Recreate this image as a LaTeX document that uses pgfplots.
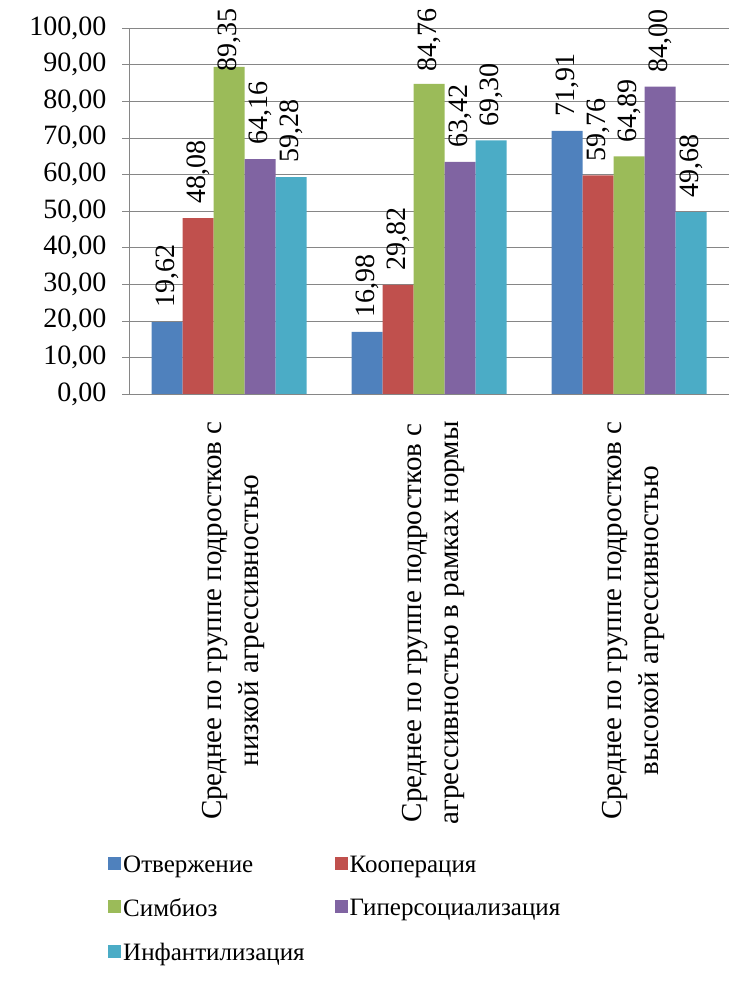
\documentclass[border=0pt]{standalone}
\usepackage{pgfplots}
\pgfplotsset{compat=1.18}
\usepackage{fontspec}
\setmainfont{Liberation Serif}
\definecolor{cA}{HTML}{4F81BD}
\definecolor{cB}{HTML}{C0504D}
\definecolor{cC}{HTML}{9BBB59}
\definecolor{cD}{HTML}{8064A2}
\definecolor{cE}{HTML}{4BACC6}
\definecolor{gridg}{HTML}{868686}
\begin{document}
\begin{tikzpicture}
\useasboundingbox (0,0) rectangle (753pt,981pt);
\begin{axis}[
  at={(129pt,587pt)}, anchor=south west,
  scale only axis, width=600pt, height=366pt,
  ybar=0pt, bar width=31pt,
  xmin=-0.5, xmax=2.5, ymin=0, ymax=100,
  ytick={0,10,...,100},
  xtick={0,1,2},
  xticklabels={{Среднее по группе подростков с\\низкой агрессивностью},
               {Среднее по группе подростков с\\агрессивностью в рамках нормы},
               {Среднее по группе подростков с\\высокой агрессивностью}},
  major x tick style={draw=none},
  extra x ticks={-0.5,0.5,1.5,2.5},
  extra x tick labels={},
  extra x tick style={grid=none, major tick length=10pt, tick style={draw=gridg}},
  tick align=outside, major tick length=7pt,
  tick style={draw=gridg, thin},
  axis x line*=bottom, axis y line*=left,
  axis line style={draw=gridg, -},
  ymajorgrids, grid style={draw=gridg, thin},
  yticklabel style={font=\fontsize{28}{32}\selectfont, xshift=-12pt, /pgf/number format/.cd, fixed, fixed zerofill, precision=2, use comma, assume math mode=true},
  xticklabel style={font=\fontsize{29}{37}\selectfont, align=center, inner sep=0pt, yshift=-20pt, xshift=4pt, rotate=90, anchor=east},
  visualization depends on={rawy \as \rawy},
  nodes near coords={\pgfmathprintnumber[fixed, fixed zerofill, precision=2, use comma, assume math mode=true]{\pgfplotspointmeta}},
  every node near coord/.append style={font=\fontsize{28}{32}\selectfont, inner sep=0pt, yshift={min(14,(88-\rawy)*3.66)*1pt}, rotate=90, anchor=west},
  legend columns=2,
  legend style={draw=none, fill=none, at={(-0.04,-1.25)}, anchor=north west,
    font=\fontsize{25}{29}\selectfont,
    /tikz/every even column/.append style={column sep=28pt},
    row sep=21pt},
  legend cell align=left,
  legend image code/.code={\fill[#1] (0pt,-5pt) rectangle (13pt,8pt);},
]
\addplot[fill=cA, draw=none] coordinates {(0,19.62) (1,16.98) (2,71.91)};
\addplot[fill=cB, draw=none] coordinates {(0,48.08) (1,29.82) (2,59.76)};
\addplot[fill=cC, draw=none] coordinates {(0,89.35) (1,84.76) (2,64.89)};
\addplot[fill=cD, draw=none] coordinates {(0,64.16) (1,63.42) (2,84.00)};
\addplot[fill=cE, draw=none] coordinates {(0,59.28) (1,69.30) (2,49.68)};
\legend{Отвержение, Кооперация, Симбиоз, Гиперсоциализация, Инфантилизация}
\end{axis}
\end{tikzpicture}
\end{document}
